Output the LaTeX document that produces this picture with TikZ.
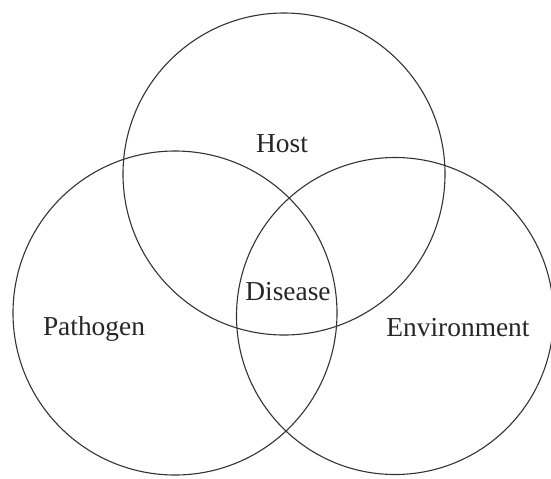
\documentclass[tikz,border=0pt]{standalone}
\usepackage{fontspec}
\setmainfont{Liberation Serif}
\begin{document}
\begin{tikzpicture}[x=0.5pt,y=-0.5pt,
  ring/.style={draw=black!80,line width=0.55pt},
  lbl/.style={font=\fontsize{13.7}{16}\selectfont,text=black!85,anchor=base,inner sep=0pt}]
\useasboundingbox (0,0) rectangle (551,478);
\draw[ring] (284,174) circle[radius=161];
\draw[ring] (175,313) circle[radius=162];
\draw[ring] (395,316) circle[radius=158.5];
\node[lbl] (host) at (282,152) {Host};
\node[lbl] (disease) at (288,300) {Disease};
\node[lbl] (pathogen) at (94,335) {Pathogen};
\node[lbl] (env) at (458,336) {Environment};
\end{tikzpicture}
\end{document}
